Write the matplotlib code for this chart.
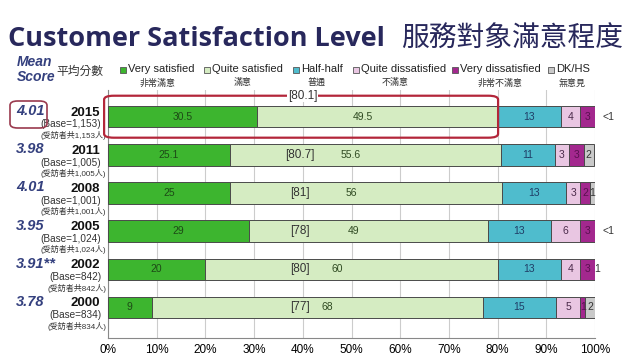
import numpy as np
import matplotlib.pyplot as plt
from matplotlib.patches import FancyBboxPatch, Rectangle
from matplotlib.transforms import blended_transform_factory

plt.rcParams['font.family'] = ['Liberation Sans', 'Noto Sans CJK TC', 'DejaVu Sans']

# data (top to bottom)
years = ['2015', '2011', '2008', '2005', '2002', '2000']
bases = ['(Base=1,153)', '(Base=1,005)', '(Base=1,001)', '(Base=1,024)', '(Base=842)', '(Base=834)']
bases_zh = ['(受訪者共1,153人)', '(受訪者共1,005人)', '(受訪者共1,001人)',
            '(受訪者共1,024人)', '(受訪者共842人)', '(受訪者共834人)']
mean_scores = ['4.01', '3.98', '4.01', '3.95', '3.91**', '3.78']
very_sat = [30.5, 25.1, 25, 29, 20, 9]
quite_sat = [49.5, 55.6, 56, 49, 60, 68]
half_half = [13, 11, 13, 13, 13, 15]
quite_dis = [4, 3, 3, 6, 4, 5]
very_dis = [3, 3, 2, 3, 3, 1]
dk_hs = [0, 2, 1, 0, 1, 2]
dk_labels = ['<1', '2', '1', '<1', '1', '2']
satisfied_total = ['[80.1]', '[80.7]', '[81]', '[78]', '[80]', '[77]']

series = [very_sat, quite_sat, half_half, quite_dis, very_dis, dk_hs]
names_en = ['Very satisfied', 'Quite satisfied', 'Half-half', 'Quite dissatisfied',
            'Very dissatisfied', 'DK/HS']
names_zh = ['非常滿意', '滿意', '普通', '不滿意', '非常不滿意', '無意見']
colors = ['#3db52f', '#d5ecc2', '#4fbccd', '#e9c6e2', '#a3288e', '#c9c9c9']
txt_colors = ['#1d4a16', '#2f4a22', '#1f3d66', '#4a2a4a', '#5a1050', '#333333']

navy = '#28285c'
score_blue = '#34407e'

fig = plt.figure(figsize=(6.4, 3.63), dpi=100)
ax = fig.add_axes([108/640, 1-338/363, 487/640, 248/363])

ypos = np.arange(len(years))[::-1]
left = np.zeros(len(years))
for i, vals in enumerate(series):
    vals = np.array(vals, dtype=float)
    ax.barh(ypos, vals, left=left, height=0.56, color=colors[i],
            edgecolor='#4a4a4a', linewidth=0.7, zorder=3)
    for j in range(len(years)):
        if i == 5:
            if vals[j] > 0:
                ax.text(left[j] + vals[j]/2, ypos[j], dk_labels[j], ha='center', va='center',
                        fontsize=7.5, color=txt_colors[i], zorder=4)
            else:
                ax.text(101.5, ypos[j], dk_labels[j], ha='left', va='center',
                        fontsize=7.5, color='#333333', zorder=4)
            continue
        cx = left[j] + vals[j]/2
        if i == 1:
            cx = max(cx - 3, 45)
        ax.text(cx, ypos[j], f'{vals[j]:g}', ha='center', va='center',
                fontsize=7.5, color=txt_colors[i], zorder=4)
    left += vals

# [satisfied total] labels
for j in range(len(years)):
    if j == 0:
        ax.text(40, ypos[j] + 0.55, satisfied_total[j], ha='center', va='center', fontsize=8.5,
                color='#333333', zorder=6, bbox=dict(facecolor='white', edgecolor='none', pad=0.5))
    else:
        ax.text(39.5, ypos[j], satisfied_total[j], ha='center', va='center', fontsize=8.5,
                color='#333333', zorder=4)

# red box around 2015 satisfied
ax.add_patch(FancyBboxPatch((-0.8, ypos[0] - 0.55), 80.9, 1.1,
                            boxstyle='round,pad=0,rounding_size=2', transform=ax.transData,
                            facecolor='none', edgecolor='#b3263a', linewidth=1.6,
                            zorder=5, clip_on=False, mutation_aspect=0.05))

ax.set_xlim(0, 100)
ax.set_ylim(-0.8, 5.7)
ax.set_xticks(np.arange(0, 101, 10))
ax.set_xticklabels([f'{v}%' for v in range(0, 101, 10)], fontsize=8.5)
ax.set_yticks([])
ax.xaxis.grid(True, color='#cccccc', linewidth=0.8, zorder=0)
ax.tick_params(axis='x', length=0, pad=4)
for s in ['top', 'right']:
    ax.spines[s].set_visible(False)
ax.spines['left'].set_color('#888888')
ax.spines['bottom'].set_color('#888888')

# left side labels
bt = blended_transform_factory(fig.transFigure, ax.transData)
for j in range(len(years)):
    y = ypos[j]
    ax.annotate(years[j], xy=(100/640, y), xycoords=bt, xytext=(0, 3), textcoords='offset points',
                ha='right', va='center', fontsize=9.5, fontweight='bold', color='#111111',
                annotation_clip=False)
    ax.annotate(bases[j], xy=(101/640, y), xycoords=bt, xytext=(0, -5.5), textcoords='offset points',
                ha='right', va='center', fontsize=7.2, color='#333333', annotation_clip=False)
    ax.annotate(bases_zh[j], xy=(106/640, y), xycoords=bt, xytext=(0, -13.5), textcoords='offset points',
                ha='right', va='center', fontsize=5.8, color='#333333', annotation_clip=False)
    ax.annotate(mean_scores[j], xy=(16/640, y), xycoords=bt, xytext=(0, 4), textcoords='offset points',
                ha='left', va='center', fontsize=10.5, fontweight='bold', style='italic',
                color=score_blue, annotation_clip=False)

# box around the 2015 mean score
fig.patches.append(FancyBboxPatch((10/640, 1-128/363), 37/640, 27/363,
                                  boxstyle='round,pad=0,rounding_size=0.012',
                                  transform=fig.transFigure, facecolor='none',
                                  edgecolor='#9a3a4e', linewidth=1.2))

# title
fig.text(8/640, 1-46/363, 'Customer Satisfaction Level', fontsize=19.5, fontweight='bold',
         color=navy, family=['Open Sans', 'DejaVu Sans'], va='baseline')
fig.text(401/640, 1-46/363, '服務對象滿意程度', fontsize=20, color=navy,
         family=['Noto Sans CJK TC'], va='baseline')

# Mean score header
fig.text(17/640, 1-62/363, 'Mean', fontsize=10, fontweight='bold', style='italic',
         color=score_blue, va='center')
fig.text(17/640, 1-77/363, 'Score', fontsize=10, fontweight='bold', style='italic',
         color=score_blue, va='center')
fig.text(56/640, 1-71/363, '平均分數', fontsize=8.5, color='#333333', va='center',
         family=['Noto Sans CJK TC'])

# legend
sq_x = [120, 204, 293, 353, 452, 548]
zh_x = [158, 243, 317, 395, 500, 572]
for i in range(len(names_en)):
    fig.patches.append(Rectangle((sq_x[i]/640, 1-73/363), 6/640, 6/363,
                                 transform=fig.transFigure, facecolor=colors[i],
                                 edgecolor='#555555', linewidth=0.6))
    fig.text((sq_x[i]+8)/640, 1-69.5/363, names_en[i], fontsize=8, color='#222222', va='center')
    fig.text(zh_x[i]/640, 1-83/363, names_zh[i], fontsize=6.5, color='#333333', va='center',
             ha='center', family=['Noto Sans CJK TC'])

fig.savefig('out.png', dpi=100, facecolor='white')
